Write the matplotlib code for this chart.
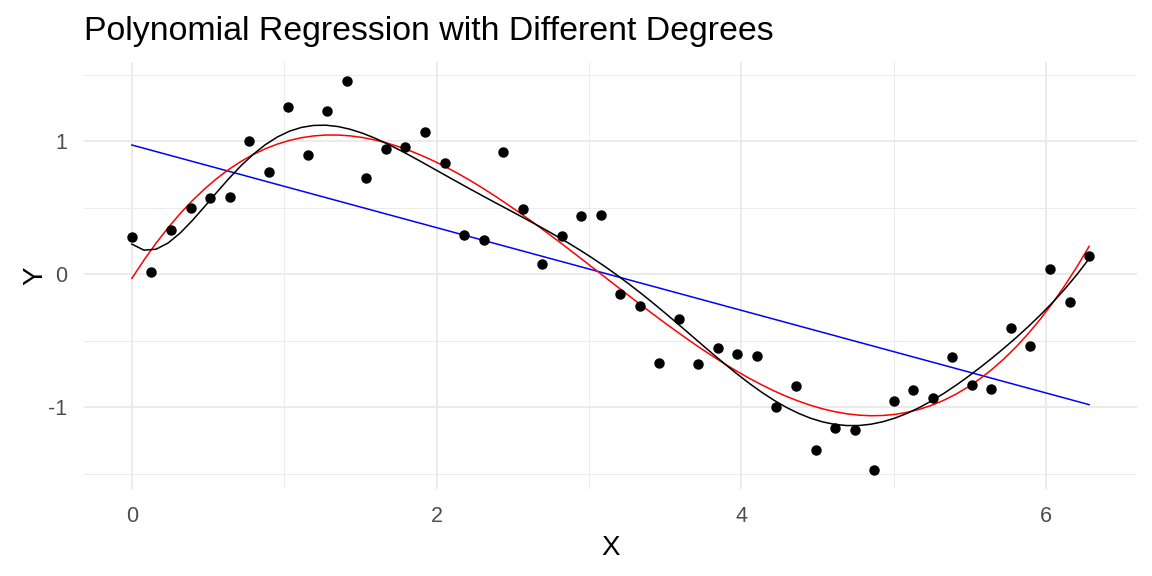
import numpy as np
import matplotlib
matplotlib.use("Agg")
import matplotlib.pyplot as plt
from numpy.polynomial import Polynomial

x_vals = [0.000, 0.128, 0.256, 0.385, 0.513, 0.641, 0.769, 0.898, 1.026, 1.154,
          1.282, 1.411, 1.539, 1.667, 1.795, 1.923, 2.052, 2.180, 2.308, 2.436,
          2.565, 2.693, 2.821, 2.949, 3.077, 3.206, 3.334, 3.462, 3.590, 3.719,
          3.847, 3.975, 4.103, 4.231, 4.360, 4.488, 4.616, 4.744, 4.873, 5.001,
          5.129, 5.257, 5.386, 5.514, 5.642, 5.770, 5.898, 6.027, 6.155, 6.283]
y_vals = [0.28, 0.017, 0.33, 0.50, 0.575, 0.58, 1.00, 0.767, 1.26, 0.90,
          1.225, 1.45, 0.725, 0.94, 0.955, 1.066, 0.838, 0.296, 0.26, 0.918,
          0.49, 0.077, 0.287, 0.437, 0.445, -0.148, -0.238, -0.665, -0.338, -0.673,
          -0.553, -0.598, -0.613, -1.0, -0.838, -1.318, -1.153, -1.168, -1.468, -0.953,
          -0.868, -0.928, -0.625, -0.835, -0.865, -0.405, -0.538, 0.04, -0.205, 0.137]
degrees = [1, 3, 10]
colors = ["blue", "red", "black"]
x_ticks = [0, 2, 4, 6]
y_ticks = [-1, 0, 1]

x = np.array(x_vals)
y = np.array(y_vals)

plt.rcParams['font.family'] = ['Liberation Sans', 'DejaVu Sans']
plt.rcParams['axes.unicode_minus'] = False

fig = plt.figure(figsize=(11.52, 5.76), dpi=100)
ax = fig.add_axes([84/1152, 1 - 489/576, (1137 - 84)/1152, (489 - 62)/576])

xs = np.linspace(x.min(), x.max(), 80)
for d, c in zip(degrees, colors):
    p = Polynomial.fit(x, y, d)
    ax.plot(xs, p(xs), color=c, lw=1.1, zorder=3)

ax.plot(x, y, 'o', color='black', ms=6.5, zorder=4)

xr = x.max() - x.min()
yr = y.max() - y.min()
ax.set_xlim(x.min() - 0.05 * xr, x.max() + 0.05 * xr)
ax.set_ylim(y.min() - 0.05 * yr, y.max() + 0.05 * yr)

ax.set_xticks(x_ticks)
ax.set_yticks(y_ticks)
ax.set_xticks([1, 3, 5], minor=True)
ax.set_yticks([-1.5, -0.5, 0.5, 1.5], minor=True)
ax.grid(True, which='major', color='#EBEBEB', lw=1.4, zorder=0)
ax.grid(True, which='minor', color='#EBEBEB', lw=0.7, zorder=0)
ax.set_axisbelow(True)
for s in ax.spines.values():
    s.set_visible(False)
ax.tick_params(which='both', length=0)
ax.tick_params(axis='both', labelsize=15.5, labelcolor='#4D4D4D')
ax.tick_params(axis='x', pad=12)
ax.tick_params(axis='y', pad=12)
ax.set_xlabel("X", fontsize=20, labelpad=6)
ax.set_ylabel("Y", fontsize=20, labelpad=0)

fig.text(84/1152, 1 - 40/576, "Polynomial Regression with Different Degrees",
         fontsize=24.4, ha='left', va='baseline')

fig.savefig("out.png", dpi=100, facecolor='white')
